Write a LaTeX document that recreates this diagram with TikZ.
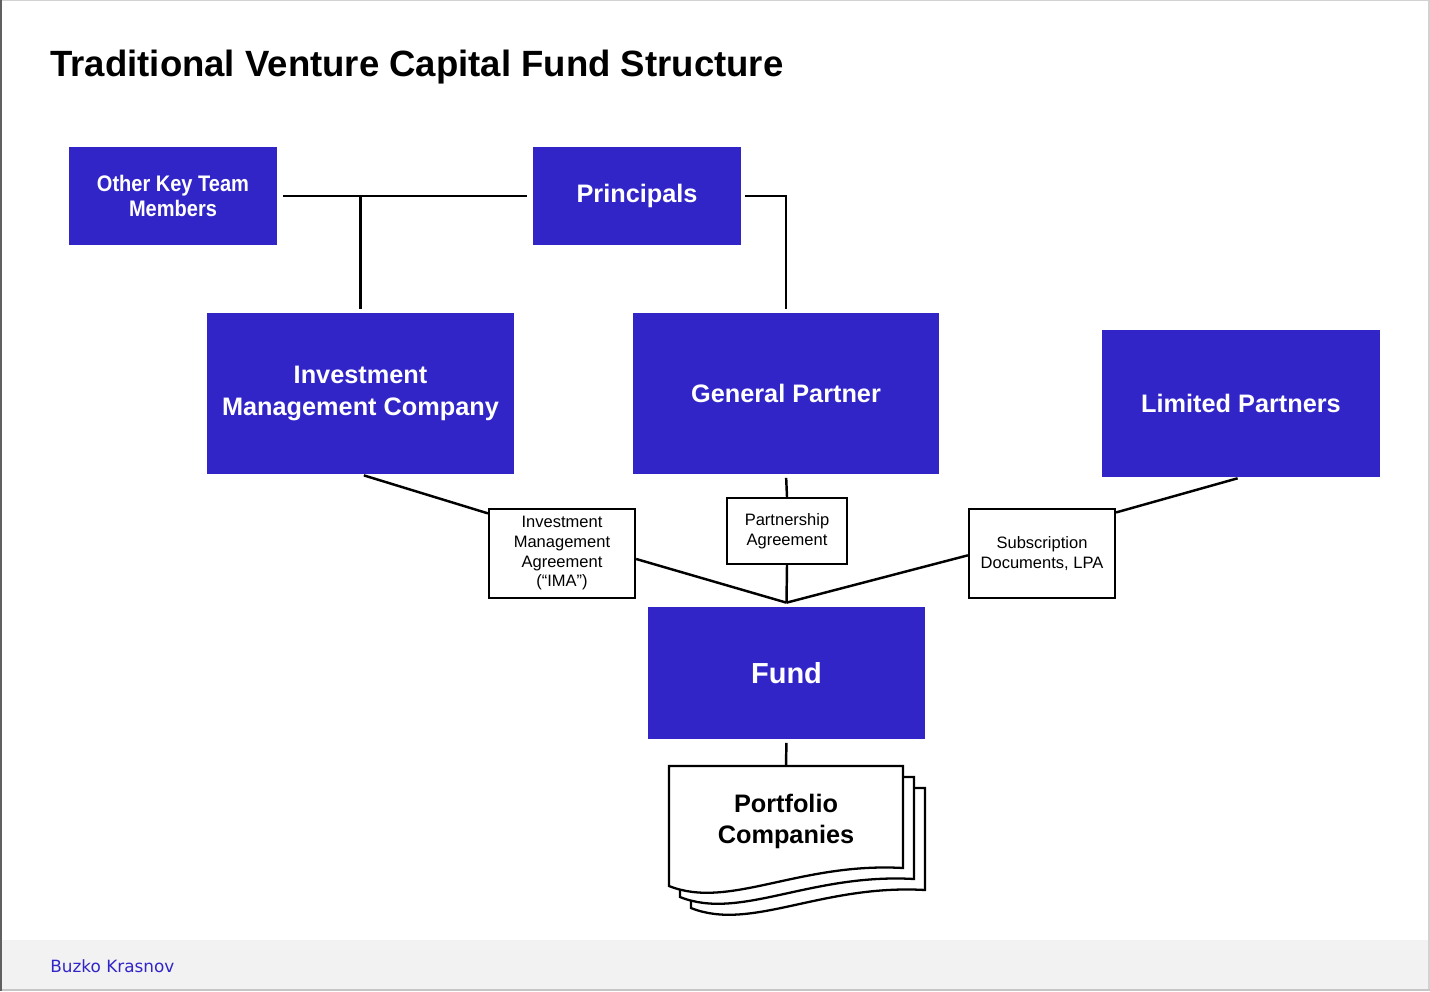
\documentclass[tikz,border=0pt]{standalone}
\usepackage{fontspec}
\setmainfont{Liberation Sans}
\newfontfamily\narrowfont[FakeStretch=0.89]{Liberation Sans}
\newfontfamily\footfont{DejaVu Sans}
\usetikzlibrary{calc}
\definecolor{vcblue}{RGB}{49,37,200}
\definecolor{footgray}{RGB}{242,242,242}

\begin{document}
\begin{tikzpicture}[x=0.02cm,y=-0.02cm,
    party/.style={fill=vcblue,text=white,align=center,inner sep=0pt,
      font=\bfseries\fontsize{14.4}{17.8}\selectfont},
    deal/.style={draw,fill=white,line width=1.3pt,align=center,inner sep=0pt,
      font=\fontsize{9.4}{11.2}\selectfont},
    sheet/.style={draw,fill=white,line width=1.3pt},
    link/.style={line width=1.4pt}]
  \useasboundingbox (0,0) rectangle (1430,991);
  % page frame and footer
  \fill[footgray] (0,940) rectangle (1430,991);
  \draw[gray!35,line width=1pt] (0,0.5)--(1430,0.5) (1429,0)--(1429,991);
  \draw[gray!45,line width=1.2pt] (0,990)--(1430,990);
  \draw[gray!75!black,line width=1.3pt] (1,0)--(1,991);
  \node[anchor=base west,inner sep=0pt,text=vcblue,font=\footfont\fontsize{9.6}{11}\selectfont] (author) at (50,972) {Buzko Krasnov};
  \node[anchor=base west,inner sep=0pt,font=\bfseries\fontsize{20.8}{24}\selectfont] (title) at (50,76) {Traditional Venture Capital Fund Structure};

  % people and entities
  \node[party,minimum width=4.16cm,minimum height=1.96cm,
    font=\narrowfont\bfseries\fontsize{12.8}{14.2}\selectfont] (team) at (173,196) {Other Key Team\\Members};
  \node[party,minimum width=4.16cm,minimum height=1.96cm] (principals) at (637,196) {Principals};
  \node[party,minimum width=6.14cm,minimum height=3.22cm] (imc) at (360.5,393.5) {Investment\\Management Company};
  \node[party,minimum width=6.12cm,minimum height=3.22cm] (gp) at (786,393.5) {General Partner};
  \node[party,minimum width=5.56cm,minimum height=2.94cm] (lp) at (1241,403.5) {Limited Partners};
  \node[party,minimum width=5.54cm,minimum height=2.64cm,
    font=\bfseries\fontsize{16.5}{20}\selectfont] (fund) at (786.5,673) {Fund};

  % agreements
  \node[deal,minimum width=2.92cm,minimum height=1.78cm] (ima) at (562,553.5) {Investment\\Management\\Agreement\\(“IMA”)};
  \node[deal,minimum width=2.4cm,minimum height=1.32cm] (pa) at (787,531) {Partnership\\Agreement};
  \node[deal,minimum width=2.92cm,minimum height=1.78cm] (subdocs) at (1042,553.5) {Subscription\\Documents, LPA};

  % portfolio stack
  \foreach \d in {22,11,0}{
    \begin{scope}[shift={(669+\d,766+\d)}]
      \draw[sheet] (0,0) -- (234,0) -- (234,102) .. controls (130,96) and (60,144) .. (0,120) -- cycle;
    \end{scope}
  }
  \node[inner sep=0pt,minimum width=4.68cm,minimum height=2.2cm,align=center,
    font=\bfseries\fontsize{14.4}{17.6}\selectfont] (portfolio) at (786,821) {Portfolio\\Companies};

  % connectors
  \coordinate (hub) at ($(fund.north)+(0,-4)$);
  \draw[link,shorten <=3pt,shorten >=3pt] (team.east) -- (principals.west);
  \draw[link,shorten >=2pt] (team.east -| imc.north) -- (imc.north);
  \draw[link,shorten <=2pt,shorten >=2pt] (principals.east) -| (gp.north);
  \draw[link,shorten <=2pt] (imc.south) -- ($(ima.north west)!0.06!(ima.south west)$);
  \draw[link] ($(ima.north east)!0.56!(ima.south east)$) -- (hub);
  \draw[link,shorten <=2pt] (gp.south) -- (pa.north);
  \draw[link] (pa.south) -- (hub);
  \draw[link,shorten <=2pt] (lp.south) -- ($(subdocs.north east)!0.05!(subdocs.south east)$);
  \draw[link] ($(subdocs.north west)!0.52!(subdocs.south west)$) -- (hub);
  \draw[link,shorten <=2pt] (fund.south) -- (portfolio.north);
\end{tikzpicture}
\end{document}
